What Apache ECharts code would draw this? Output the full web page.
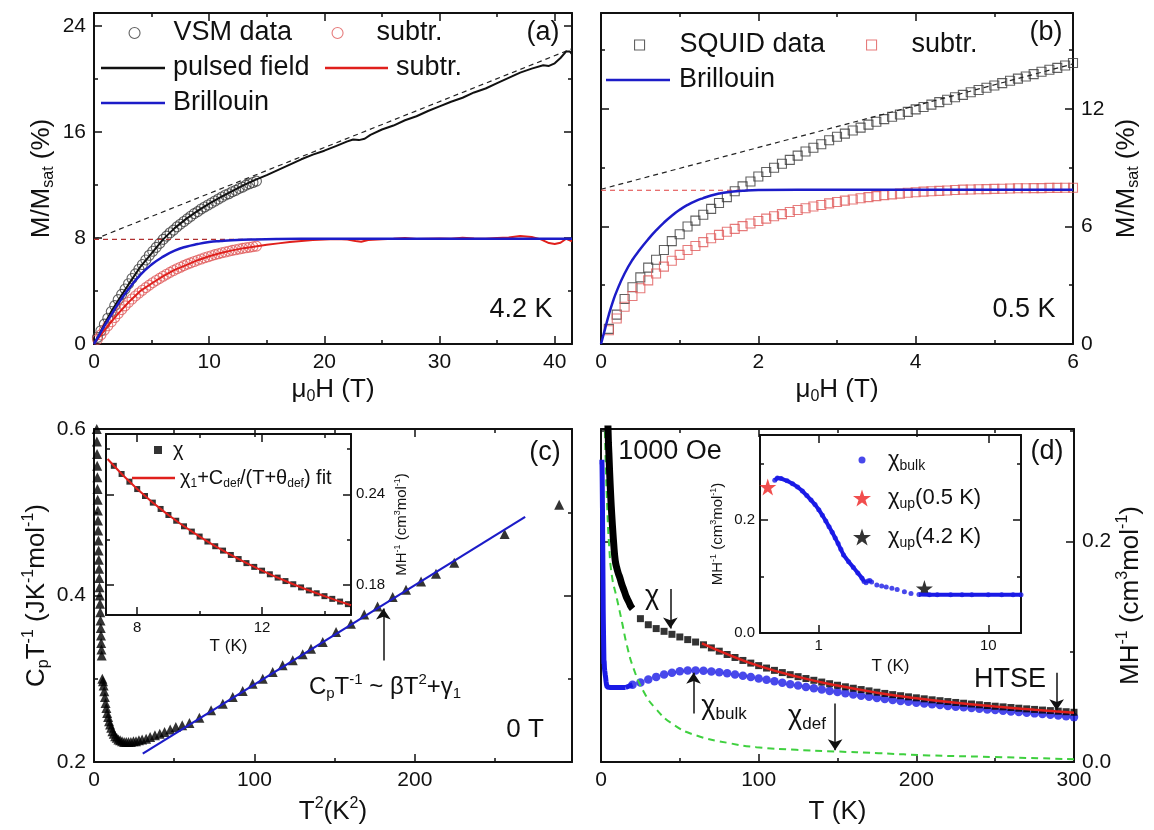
<!DOCTYPE html>
<html>
<head>
<meta charset="utf-8">
<script src="https://cdn.jsdelivr.net/npm/echarts@6/dist/echarts.min.js"></script>
<style>
html,body{margin:0;padding:0;background:#fff}
#chart{width:1154px;height:830px}
</style>
</head>
<body>
<div id="chart"></div>
<script>
// ---- panel (a): M/Msat vs field at 4.2 K
const vsmH = [0.3,0.6,0.9,1.2,1.5,1.8,2.1,2.4,2.7,3.0,3.3,3.6,3.9,4.2,4.5,4.8,5.1,5.4,5.7,6.0,6.3,6.6,6.9,7.2,7.5,7.8,8.1,8.4,8.7,9.0,9.3,9.6,9.9,10.2,10.5,10.8,11.1,11.4,11.7,12.0,12.3,12.6,12.9,13.2,13.5,13.8,14.1];
const vsmM = [0.5,1.0,1.5,1.95,2.45,2.9,3.35,3.75,4.15,4.55,4.95,5.3,5.65,6.0,6.35,6.7,7.0,7.3,7.6,7.9,8.15,8.4,8.6,8.85,9.05,9.25,9.45,9.65,9.85,10.0,10.2,10.35,10.5,10.65,10.8,10.95,11.1,11.25,11.35,11.5,11.6,11.75,11.85,12.0,12.1,12.2,12.3];
const vsmSubM = [0.35,0.7,1.05,1.38,1.68,2.0,2.3,2.6,2.88,3.15,3.4,3.63,3.85,4.06,4.26,4.45,4.63,4.8,4.96,5.12,5.27,5.41,5.55,5.68,5.8,5.92,6.03,6.13,6.23,6.33,6.42,6.51,6.59,6.67,6.75,6.82,6.89,6.95,7.01,7.07,7.12,7.17,7.22,7.27,7.31,7.35,7.39];
const pulsedH = [0,0.5,1,1.5,2,3,4,5,6,7,8,9,10,11,12,13,14,15,16,17,18,19,20,21,22,22.5,23,23.5,24,25,26,27,28,29,30,31,32,33,34,35,36,37,38,39,39.5,40,40.5,41,41.3,41.5];
const pulsedM = [0,0.8,1.65,2.45,3.15,4.5,5.8,6.85,7.9,8.75,9.45,10.05,10.6,11.1,11.55,12.0,12.4,12.75,13.15,13.55,13.95,14.3,14.6,14.95,15.3,15.45,15.4,15.5,15.8,16.2,16.5,16.9,17.2,17.6,17.95,18.3,18.6,19.0,19.3,19.7,20.1,20.5,20.8,21.05,21.0,21.2,21.6,22.1,22.1,21.9];
const pulsedSubH = [0,0.5,1,1.5,2,3,4,5,6,7,8,9,10,11,12,13,14,15,16,17,18,19,20,21,22,22.7,23.2,23.8,25,26,27,28,29,30,31,32,33,34,35,36,37,38,38.8,39.5,40,40.5,41,41.5];
const pulsedSubM = [0,0.58,1.15,1.68,2.2,3.15,3.99,4.57,5.12,5.6,5.96,6.33,6.63,6.87,7.07,7.24,7.37,7.5,7.6,7.7,7.78,7.85,7.9,7.93,7.9,7.78,7.72,7.86,7.92,7.95,8.0,7.93,7.95,7.97,7.95,8.03,7.96,7.95,8.0,8.05,8.15,8.08,7.9,7.62,7.55,7.65,7.95,7.75];
const brillAH = [0,0.5,1,1.5,2,3,4,5,6,7,8,9,10,11,12,14,16,20,41.5];
const brillAM = [0,0.75,1.5,2.2,2.9,4.15,5.2,6.0,6.6,7.05,7.35,7.55,7.7,7.78,7.84,7.9,7.93,7.95,7.95];
const linAH = [0, 41.5];
const linAM = [7.9, 22.3];
const satAH = [0, 41.5];
const satAM = [7.9, 7.9];

// ---- panel (b): SQUID at 0.5 K
const squidH = [0.1,0.2,0.3,0.4,0.5,0.6,0.7,0.8,0.9,1.0,1.1,1.2,1.3,1.4,1.5,1.6,1.7,1.8,1.9,2.0,2.1,2.2,2.3,2.4,2.5,2.6,2.7,2.8,2.9,3.0,3.1,3.2,3.3,3.4,3.5,3.6,3.7,3.8,3.9,4.0,4.1,4.2,4.3,4.4,4.5,4.6,4.7,4.8,4.9,5.0,5.1,5.2,5.3,5.4,5.5,5.6,5.7,5.8,5.9,6.0];
const squidM = [0.77,1.5,2.3,2.9,3.4,3.9,4.3,4.8,5.25,5.6,6.0,6.3,6.6,6.9,7.2,7.5,7.8,8.05,8.3,8.55,8.78,9.0,9.2,9.4,9.62,9.83,10.02,10.2,10.4,10.58,10.74,10.9,11.05,11.2,11.35,11.48,11.6,11.72,11.85,11.98,12.1,12.22,12.35,12.47,12.6,12.72,12.85,12.97,13.08,13.2,13.32,13.44,13.55,13.66,13.78,13.9,14.0,14.1,14.22,14.35];
const squidSubM = [0.7,1.3,1.9,2.45,2.85,3.25,3.6,3.95,4.25,4.55,4.8,5.0,5.2,5.4,5.57,5.73,5.88,6.02,6.15,6.28,6.4,6.52,6.63,6.74,6.84,6.93,7.02,7.1,7.18,7.25,7.32,7.38,7.44,7.5,7.55,7.6,7.64,7.68,7.72,7.75,7.78,7.8,7.82,7.84,7.86,7.88,7.89,7.9,7.91,7.92,7.93,7.94,7.95,7.95,7.96,7.96,7.97,7.97,7.98,7.98];
const brillBH = [0,0.05,0.1,0.15,0.2,0.3,0.4,0.5,0.6,0.7,0.8,0.9,1.0,1.1,1.2,1.3,1.4,1.5,1.6,1.8,2.0,2.5,6.0];
const brillBM = [0,0.75,1.5,2.15,2.7,3.6,4.3,4.85,5.35,5.8,6.2,6.55,6.85,7.1,7.3,7.45,7.58,7.68,7.75,7.82,7.86,7.88,7.88];
const linBH = [0, 6];
const linBM = [7.9, 14.3];
const satBH = [0, 6];
const satBM = [7.85, 7.85];

// ---- panel (c): CpT^-1 vs T^2
const cT2 = [1.6,1.7,1.8,1.9,2.0,2.1,2.2,2.3,2.4,2.5,2.6,2.75,2.9,3.0,3.15,3.3,3.45,3.6,3.75,3.9,4.05,4.2,4.35,4.5,4.65,4.8,
  5.2,5.6,6.0,6.4,6.8,7.2,7.7,8.2,8.8,9.4,10.0,10.7,11.5,12.3,13.2,14.2,15.2,16.3,17.5,18.8,20.1,21.5,23.0,24.6,26.2,28.0,30.0,32.5,35.0,38.0,41.0,44.0,47.5,51.0,55.0,
  59.5,65.7,73.0,80.3,86.5,92.7,98.9,105.2,111.4,117.6,123.9,130.1,135.3,142.6,150.9,160.2,168.5,176.8,186.2,194.5,203.9,213.2,224.6,256,290];
const cCpT = [0.615,0.600,0.585,0.570,0.556,0.542,0.528,0.515,0.502,0.490,0.478,0.466,0.454,0.443,0.432,0.421,0.410,0.400,0.390,0.380,0.370,0.361,0.352,0.343,0.335,0.328,
  0.300,0.297,0.292,0.285,0.278,0.271,0.265,0.259,0.254,0.249,0.245,0.241,0.237,0.234,0.231,0.229,0.227,0.226,0.225,0.224,0.224,0.224,0.224,0.225,0.225,0.226,0.227,0.228,0.230,0.232,0.234,0.236,0.239,0.242,0.244,
  0.2468,0.2533,0.2621,0.2701,0.2781,0.2853,0.2941,0.3001,0.3081,0.3161,0.3221,0.3293,0.3361,0.3441,0.3561,0.3661,0.3773,0.3869,0.3981,0.4070,0.4169,0.4262,0.4394,0.474,0.509];
const cFitT2 = [30.4, 268.8];
const cFitCpT = [0.210, 0.4945];
// inset of (c)
const chiT = [7.25,7.5,7.75,8.0,8.25,8.5,8.75,9.0,9.25,9.5,9.75,10.0,10.25,10.5,10.75,11.0,11.25,11.5,11.75,12.0,12.25,12.5,12.75,13.0,13.25,13.5,13.75,14.0,14.25,14.5,14.75];
const chiVal = [0.2589,0.2535,0.2484,0.2435,0.2389,0.2345,0.2303,0.2263,0.2225,0.2188,0.2153,0.2120,0.2087,0.2056,0.2027,0.1998,0.1971,0.1944,0.1919,0.1894,0.1870,0.1848,0.1825,0.1804,0.1783,0.1763,0.1744,0.1725,0.1707,0.1689,0.1672];
const chiFitT = [7.05,8,9,10,11,12,13,14,14.85];
const chiFitVal = [0.2634,0.2435,0.2263,0.2120,0.1998,0.1894,0.1804,0.1725,0.1665];

// ---- panel (d): MH^-1 vs T
const dLowT = [4.3,4.7,5,5.5,6,6.5,7,7.5,8,9,10,11,12,13,14,15,16,17,18,19,20];
const dLowChi = [0.31,0.29,0.28,0.262,0.246,0.232,0.220,0.209,0.199,0.183,0.176,0.171,0.167,0.162,0.158,0.154,0.150,0.147,0.144,0.141,0.139];
const dT = [25,30,35,40,45,50,55,60,65,70,75,80,85,90,95,100,105,110,115,120,125,130,135,140,145,150,155,160,165,170,175,180,185,190,195,200,205,210,215,220,225,230,235,240,245,250,255,260,265,270,275,280,285,290,295,300];
const dChi = [0.130,0.1245,0.121,0.1185,0.1158,0.1134,0.111,0.1088,0.1063,0.1035,0.1005,0.0975,0.0948,0.0921,0.0897,0.0874,0.0852,0.0831,0.0811,0.0792,0.0774,0.0757,0.0741,0.0725,0.071,0.0696,0.0682,0.0669,0.0657,0.0645,0.0633,0.0622,0.0611,0.0601,0.0591,0.0582,0.0573,0.0564,0.0556,0.0548,0.054,0.0533,0.0526,0.0519,0.0512,0.0506,0.05,0.0494,0.0488,0.0482,0.0477,0.0471,0.0466,0.0461,0.0456,0.0451];
const bulkT = [20,25,30,35,40,45,50,55,60,65,70,75,80,85,90,95,100,105,110,115,120,125,130,135,140,145,150,155,160,165,170,175,180,185,190,195,200,205,210,215,220,225,230,235,240,245,250,255,260,265,270,275,280,285,290,295,300];
const bulkChi = [0.0700,0.0720,0.0748,0.0772,0.0793,0.0810,0.0822,0.0829,0.0830,0.0827,0.0821,0.0813,0.0804,0.0794,0.0783,0.0771,0.0758,0.0745,0.0732,0.0719,0.0706,0.0693,0.0681,0.0669,0.0657,0.0645,0.0634,0.0623,0.0612,0.0601,0.0591,0.0581,0.0572,0.0563,0.0554,0.0546,0.0538,0.0530,0.0523,0.0516,0.0509,0.0502,0.0496,0.0489,0.0483,0.0477,0.0471,0.0465,0.0459,0.0453,0.0447,0.0441,0.0435,0.0428,0.0421,0.0414,0.0407];
const bulkJoinT = [15.6, 18, 20];
const bulkJoinChi = [0.0675, 0.069, 0.070];
const htseT = [64,80,100,125,150,175,200,225,250,275,300];
const htseChi = [0.1075,0.0978,0.0872,0.0772,0.0693,0.0629,0.0579,0.0537,0.0503,0.0473,0.0447];
const defT = [2.5,3,4,5,6.9,10.1,13.3,16.4,20.6,27,34.3,45.9,60.6,81.7,98.5,123.8,148,176,208,250,300];
const defChi = [0.30,0.27,0.23,0.20,0.169,0.148,0.127,0.106,0.085,0.064,0.049,0.034,0.024,0.017,0.0134,0.011,0.0096,0.008,0.006,0.0045,0.0025];
// inset of (d), log T
const inBulkT = [0.55,0.57,0.6,0.65,0.7,0.75,0.8,0.85,0.9,0.95,1.0,1.05,1.1,1.15,1.2,1.25,1.3,1.35,1.4,1.5,1.6,1.7,1.8,1.85,1.9,1.95,2.0,2.05,2.2,2.35,2.5,2.7,2.9,3.2,3.5,3.9,4.5,5,6,7,8,10,12,14,15.6];
const inBulkChi = [0.270,0.274,0.273,0.269,0.264,0.258,0.251,0.243,0.235,0.227,0.218,0.208,0.198,0.188,0.178,0.168,0.158,0.148,0.138,0.126,0.116,0.106,0.097,0.091,0.089,0.092,0.093,0.090,0.085,0.083,0.0815,0.079,0.077,0.073,0.070,0.068,0.0675,0.0675,0.0675,0.0675,0.0675,0.0675,0.0675,0.0675,0.0675];
const up05T = [0.5], up05Chi = [0.258];
const up42T = [4.2], up42Chi = [0.0788];

const FONT = '"Liberation Sans", Arial, sans-serif';
const INK = '#111';
const BLUE = '#1c1cc8', BLUED = '#1a1ae6', RED = '#e0201c', REDO = '#e05a5a';
const STAR = 'path://M50,0 L61.8,35.1 L98.9,35.1 L69.1,56.7 L80.3,91.9 L50,70.2 L19.7,91.9 L30.9,56.7 L1.1,35.1 L38.2,35.1 Z';
const SQ = 'path://M0,0 L10,0 L10,10 L0,10 Z';

const zip = (xs, ys) => xs.map((x, i) => [x, ys[i]]);

// sub / superscript styles for axis names and legends
function rich(fs) {
  const s = Math.round(fs * 0.62);
  return {
    sub: {fontSize: s, fontFamily: FONT, color: INK, lineHeight: s, verticalAlign: 'bottom'},
    sup: {fontSize: s, fontFamily: FONT, color: INK, lineHeight: s, verticalAlign: 'top'}
  };
}
// same thing for graphic text (zrender style names)
function richZ(fs) {
  const s = Math.round(fs * 0.62);
  return {
    sub: {fontSize: s, fontFamily: FONT, fill: INK, lineHeight: s, verticalAlign: 'bottom'},
    sup: {fontSize: s, fontFamily: FONT, fill: INK, lineHeight: s, verticalAlign: 'top'}
  };
}

const xAxes = [], yAxes = [];
const xi = [], yi = [];

function addAxes(list, gridIndex, base, pos, mirrorPos, label, name) {
  const minor = base.minor;
  const b = Object.assign({}, base);
  delete b.minor;
  const common = Object.assign({
    gridIndex,
    axisLine: {show: true, onZero: false, lineStyle: {color: INK, width: 2}},
    axisTick: {show: true, inside: true, length: 8, lineStyle: {color: INK, width: 1.5}},
    minorTick: {show: !!minor, splitNumber: minor || 2, length: 4, lineStyle: {color: INK, width: 1.5}},
    splitLine: {show: false},
    minorSplitLine: {show: false}
  }, b);
  list.push(Object.assign({}, common, {position: pos, axisLabel: label}, name || {}));
  const idx = list.length - 1;
  list.push(Object.assign({}, common, {position: mirrorPos, axisLabel: {show: false}}));
  return idx;
}
function lab(extra, fs) {
  return Object.assign({show: true, color: INK, fontSize: fs || 21, fontFamily: FONT, margin: 8}, extra);
}
function nm(text, gap, rotate, fs) {
  fs = fs || 26;
  return {name: text, nameLocation: 'middle', nameGap: gap, nameRotate: rotate || 0,
    nameTextStyle: {fontSize: fs, fontFamily: FONT, color: INK, lineHeight: Math.round(fs * 1.2), rich: rich(fs)}};
}
const f1 = v => v.toFixed(1), f2 = v => v.toFixed(2);

// (a)
xi[0] = addAxes(xAxes, 0, {type: 'value', min: 0, max: 41.5, interval: 10, minor: 2}, 'bottom', 'top',
  lab({showMaxLabel: false}), nm('μ{sub|0}H (T)', 24));
yi[0] = addAxes(yAxes, 0, {type: 'value', min: 0, max: 25, interval: 8, minor: 2}, 'left', 'right',
  lab({showMaxLabel: false}), nm('M/M{sub|sat} (%)', 37, 90));
// (b)
xi[1] = addAxes(xAxes, 1, {type: 'value', min: 0, max: 6, interval: 2, minor: 2}, 'bottom', 'top',
  lab({}), nm('μ{sub|0}H (T)', 24));
yi[1] = addAxes(yAxes, 1, {type: 'value', min: 0, max: 16.9, interval: 6, minor: 2}, 'right', 'left',
  lab({showMaxLabel: false}), nm('M/M{sub|sat} (%)', 38, 90));
// (c)
xi[2] = addAxes(xAxes, 2, {type: 'value', min: 0, max: 298, interval: 100, minor: 2}, 'bottom', 'top',
  lab({showMaxLabel: false}), nm('T{sup|2}(K{sup|2})', 34));
yi[2] = addAxes(yAxes, 2, {type: 'value', min: 0.2, max: 0.6, interval: 0.2, minor: 2}, 'left', 'right',
  lab({formatter: f1}), nm('C{sub|p}T{sup|-1} (JK{sup|-1}mol{sup|-1})', 42, 90));
// (d)
xi[3] = addAxes(xAxes, 3, {type: 'value', min: 0, max: 300, interval: 100, minor: 2}, 'bottom', 'top',
  lab({}), nm('T (K)', 34));
yi[3] = addAxes(yAxes, 3, {type: 'value', min: 0, max: 0.302, interval: 0.2, minor: 2}, 'right', 'left',
  lab({formatter: f1, showMaxLabel: false}), nm('MH{sup|-1} (cm{sup|3}mol{sup|-1})', 40, 90));
// inset (c)
xi[4] = addAxes(xAxes, 4, {type: 'value', min: 7, max: 14.85, minInterval: 4, maxInterval: 4, minor: 2}, 'bottom', 'top',
  lab({showMinLabel: false, showMaxLabel: false, margin: 5}, 15), nm('T (K)', 21, 0, 17));
yi[4] = addAxes(yAxes, 4, {type: 'value', min: 0.16, max: 0.28, minInterval: 0.06, maxInterval: 0.06, minor: 2}, 'right', 'left',
  lab({formatter: f2, showMinLabel: false, showMaxLabel: false, margin: 5}, 15), nm('MH{sup|-1} (cm{sup|3}mol{sup|-1})', 42, 90, 15));
// inset (d)
xi[5] = addAxes(xAxes, 5, {type: 'log', logBase: 10, min: 0.45, max: 15.6}, 'bottom', 'top',
  lab({showMinLabel: false, showMaxLabel: false, margin: 5}, 15), nm('T (K)', 23, 0, 17));
yi[5] = addAxes(yAxes, 5, {type: 'value', min: 0, max: 0.35, interval: 0.2, minor: 2}, 'left', 'right',
  lab({formatter: f1, showMaxLabel: false, margin: 5}, 15), nm('MH{sup|-1} (cm{sup|3}mol{sup|-1})', 33, 90, 15));

const series = [];
function sc(g, data, o) {
  series.push(Object.assign({type: 'scatter', xAxisIndex: xi[g], yAxisIndex: yi[g], data, silent: true}, o));
}
function ln(g, data, o) {
  series.push(Object.assign({type: 'line', xAxisIndex: xi[g], yAxisIndex: yi[g], data, symbol: 'none', silent: true}, o));
}
function arrows(pairs) {
  return {silent: true, symbol: ['none', 'arrow'], symbolSize: 11, label: {show: false},
    lineStyle: {color: INK, width: 1.5, type: 'solid'}, animation: false,
    data: pairs.map(p => [{coord: p[0]}, {coord: p[1]}])};
}
const hollow = c => ({color: 'rgba(0,0,0,0)', borderColor: c, borderWidth: 1.1});

// (a)
ln(0, zip(linAH, linAM), {lineStyle: {color: '#222', width: 1.2, type: [5, 4]}});
ln(0, zip(satAH, satAM), {lineStyle: {color: '#b03030', width: 1.2, type: [5, 4]}});
sc(0, zip(vsmH, vsmM), {name: 'a_vsm', symbol: 'circle', symbolSize: 10, itemStyle: hollow('#3a3a3a')});
sc(0, zip(vsmH, vsmSubM), {name: 'a_vsmsub', symbol: 'circle', symbolSize: 10, itemStyle: hollow(REDO)});
ln(0, zip(pulsedH, pulsedM), {name: 'a_pulsed', lineStyle: {color: '#111', width: 2}, itemStyle: {color: '#111'}});
ln(0, zip(pulsedSubH, pulsedSubM), {name: 'a_pulsedsub', lineStyle: {color: RED, width: 2}, itemStyle: {color: RED}});
ln(0, zip(brillAH, brillAM), {name: 'a_brill', smooth: true, lineStyle: {color: BLUE, width: 2.5}, itemStyle: {color: BLUE}});
// (b)
ln(1, zip(linBH, linBM), {lineStyle: {color: '#222', width: 1.2, type: [5, 4]}});
ln(1, zip(satBH, satBM), {lineStyle: {color: '#e04040', width: 1.2, type: [5, 4]}});
ln(1, zip(brillBH, brillBM), {name: 'b_brill', smooth: true, lineStyle: {color: BLUE, width: 2.5}, itemStyle: {color: BLUE}});
sc(1, zip(squidH, squidM), {name: 'b_squid', symbol: SQ, symbolSize: 9, itemStyle: hollow('#3a3a3a')});
sc(1, zip(squidH, squidSubM), {name: 'b_squidsub', symbol: SQ, symbolSize: 9, itemStyle: hollow(REDO)});
// (c)
sc(2, zip(cT2, cCpT), {symbol: 'triangle', symbolSize: 10, itemStyle: {color: '#000'}});
ln(2, zip(cFitT2, cFitCpT), {lineStyle: {color: BLUE, width: 2.2}, markLine: arrows([[[180.4, 0.322], [180.4, 0.3845]]])});
// inset (c)
sc(4, zip(chiT, chiVal), {name: 'c_chi', symbol: SQ, symbolSize: 6, itemStyle: {color: '#000'}});
ln(4, zip(chiFitT, chiFitVal), {name: 'c_fit', smooth: true, lineStyle: {color: RED, width: 2}, itemStyle: {color: RED}});
// (d)
ln(3, zip(defT, defChi), {smooth: true, lineStyle: {color: '#3fd03f', width: 2, type: [7, 5]}});
ln(3, zip(inBulkT, inBulkChi), {lineStyle: {color: BLUED, width: 5}});
ln(3, zip(bulkJoinT, bulkJoinChi), {lineStyle: {color: BLUED, width: 5}});
sc(3, zip(bulkT, bulkChi), {symbol: 'circle', symbolSize: 8.5, itemStyle: {color: BLUED}});
ln(3, zip(dLowT, dLowChi), {smooth: true, lineStyle: {color: '#000', width: 7}});
sc(3, zip(dT, dChi), {symbol: 'rect', symbolSize: 7, itemStyle: {color: '#000'}});
ln(3, zip(htseT, htseChi), {smooth: true, lineStyle: {color: RED, width: 2.5},
  markLine: arrows([[[44, 0.157], [44, 0.121]], [[58.7, 0.044], [58.7, 0.081]], [[148.5, 0.053], [148.5, 0.0106]], [[289, 0.081], [289, 0.047]]])});
// inset (d)
ln(5, inBulkT.map((t, i) => (t > 1.87 && t < 3.8) ? [t, '-'] : [t, inBulkChi[i]]), {lineStyle: {color: BLUED, width: 4}});
sc(5, zip(inBulkT, inBulkChi), {name: 'd_bulk', symbol: 'circle', symbolSize: 5, itemStyle: {color: BLUED}});
sc(5, zip(up05T, up05Chi), {name: 'd_up05', symbol: STAR, symbolSize: 17, itemStyle: {color: '#ee2020'}});
sc(5, zip(up42T, up42Chi), {name: 'd_up42', symbol: STAR, symbolSize: 17, itemStyle: {color: '#000'}});

const legendText = {
  a_vsm: 'VSM data', a_vsmsub: 'subtr.', a_pulsed: 'pulsed field', a_pulsedsub: 'subtr.', a_brill: 'Brillouin',
  b_squid: 'SQUID data', b_squidsub: 'subtr.', b_brill: 'Brillouin',
  c_chi: 'χ', c_fit: 'χ{sub|1}+C{sub|def}/(T+θ{sub|def}) fit',
  d_bulk: 'χ{sub|bulk}', d_up05: 'χ{sub|up}(0.5 K)', d_up42: 'χ{sub|up}(4.2 K)'
};
// one legend per entry: icon box w x h at left, text begins at textX
function lg(name, icon, left, cy, w, h, textX, fs, bw) {
  const lh = Math.round(fs * 1.2);
  const pad = Math.max(0, textX - (left + w + 5));
  return {data: [{name, icon}], left, top: cy - lh / 2, itemWidth: w, itemHeight: h, padding: 0, itemGap: 0,
    selectedMode: false, formatter: n => legendText[n], itemStyle: {borderWidth: bw},
    textStyle: {fontSize: fs, fontFamily: FONT, color: INK, lineHeight: lh, padding: [0, 0, 0, pad], rich: rich(fs)}};
}
const legend = [
  lg('a_vsm', 'circle', 128.5, 33, 11, 11, 173, 27, 1.1),
  lg('a_vsmsub', 'circle', 331.5, 33, 11, 11, 376, 27, 1.1),
  lg('a_pulsed', 'rect', 101, 68, 64, 2.5, 173, 27, 0),
  lg('a_pulsedsub', 'rect', 325, 68, 63, 2.5, 396, 27, 0),
  lg('a_brill', 'rect', 101, 103, 64, 2.5, 173, 27, 0),
  lg('b_squid', SQ, 634, 45, 10, 10, 679, 27, 1.1),
  lg('b_squidsub', SQ, 866, 45, 10, 10, 911, 27, 1.1),
  lg('b_brill', 'rect', 606, 80, 64, 2.5, 679, 27, 0),
  lg('c_chi', SQ, 154, 450, 8, 8, 173, 20, 0),
  lg('c_fit', 'rect', 132, 478, 43, 2.5, 178, 20, 0),
  lg('d_bulk', 'circle', 858.5, 460, 7, 7, 888, 22, 0),
  lg('d_up05', STAR, 853, 498, 18, 18, 888, 22, 0),
  lg('d_up42', STAR, 853, 537, 18, 18, 888, 22, 0)
];

const notes = [
  [543, 33, '(a)', 27], [521, 310, '4.2 K', 27],
  [1046, 33, '(b)', 27], [1024, 310, '0.5 K', 27],
  [545, 453, '(c)', 27], [525, 730, '0 T', 26],
  [385, 687, 'C{sub|p}T{sup|-1} ~ βT{sup|2}+γ{sub|1}', 24],
  [670, 452, '1000 Oe', 27], [1047, 452, '(d)', 27],
  [652, 597, 'χ', 27], [724, 707, 'χ{sub|bulk}', 27], [807, 717, 'χ{sub|def}', 27],
  [1010, 680, 'HTSE', 27]
];
const graphic = notes.map(n => ({
  type: 'text', x: n[0], y: n[1], silent: true, z: 100,
  style: {text: n[2], fontSize: n[3], fontFamily: FONT, fill: INK, align: 'center', verticalAlign: 'middle',
    lineHeight: Math.round(n[3] * 1.2), rich: richZ(n[3])}
}));

const chart = echarts.init(document.getElementById('chart'), null, {renderer: 'canvas'});
chart.setOption({
  animation: false,
  backgroundColor: '#fff',
  grid: [
    {left: 94, top: 13, width: 478, height: 331},
    {left: 601, top: 13, width: 472, height: 331},
    {left: 94, top: 429, width: 478, height: 333},
    {left: 601, top: 429, width: 473, height: 333},
    {left: 106, top: 434, width: 245, height: 181, show: true, backgroundColor: '#fff', borderWidth: 0},
    {left: 760, top: 435, width: 261, height: 198, show: true, backgroundColor: '#fff', borderWidth: 0}
  ],
  xAxis: xAxes,
  yAxis: yAxes,
  legend,
  graphic,
  series
});
</script>
</body>
</html>
